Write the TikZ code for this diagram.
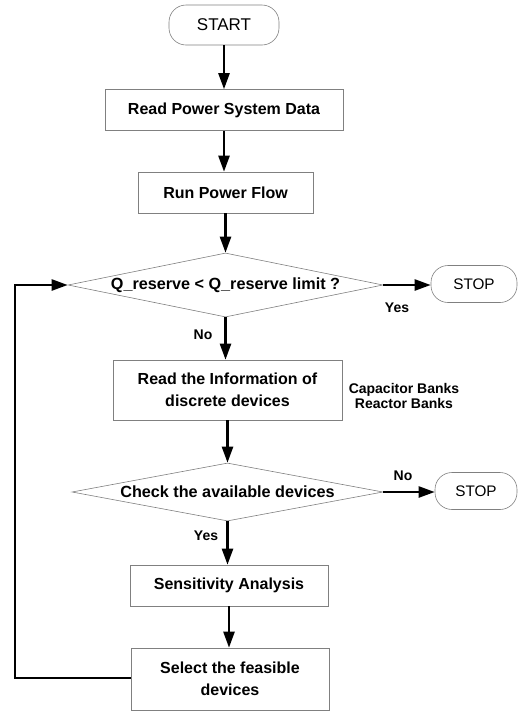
\documentclass[tikz,border=0pt]{standalone}
\usepackage{fontspec}
\setmainfont{Liberation Sans}
\usetikzlibrary{arrows.meta,shapes.geometric}
\tikzset{
  outline/.style={draw=black!50, line width=0.6pt},
  procbox/.style={outline, rectangle, inner sep=0pt, align=center,
    font=\fontsize{16}{22}\selectfont\bfseries},
  termbox/.style={outline, rectangle, rounded corners=17pt, inner sep=0pt,
    font=\fontsize{15.3}{18}\selectfont},
  decision/.style={outline, diamond, inner sep=0pt},
  decisiontext/.style={font=\fontsize{16.2}{19}\selectfont\bfseries},
  flow/.style={draw=black, line width=2.4pt,
    -{Triangle[length=16pt,width=11pt]}},
  tag/.style={font=\fontsize{14}{16}\selectfont\bfseries},
  note/.style={align=center, font=\fontsize{14}{15}\selectfont\bfseries}
}
\begin{document}
\begin{tikzpicture}[x=1pt,y=-1pt]
\useasboundingbox (0,0) rectangle (518,713);

% terminals and process steps
\node[termbox, minimum width=110pt, minimum height=40pt,
  font=\fontsize{17}{20}\selectfont] (start) at (224,25) {START};
\node[procbox, minimum width=238pt, minimum height=41pt] (read) at (224,110) {Read Power System Data};
\node[procbox, minimum width=175pt, minimum height=41pt] (pf) at (225.5,192.5) {Run Power Flow};
\node[decision, minimum width=315pt, minimum height=64pt] (q) at (225.5,285) {};
\node[decisiontext] at (q.center) {Q\_reserve < Q\_reserve limit ?};
\node[termbox, minimum width=86pt, minimum height=37pt] (stopa) at (474,284) {STOP};
\node[procbox, minimum width=229pt, minimum height=60pt] (info) at (227.5,390)
  {Read the Information of\\discrete devices};
\node[note] (banks) at (404,396) {Capacitor Banks\\Reactor Banks};
\node[decision, minimum width=311pt, minimum height=58pt] (chk) at (227.5,492) {};
\node[decisiontext] at (chk.center) {Check the available devices};
\node[termbox, minimum width=82pt, minimum height=37pt] (stopb) at (476,491) {STOP};
\node[procbox, minimum width=198pt, minimum height=41pt] (sens) at (229,585.5) {Sensitivity Analysis};
\node[procbox, minimum width=198pt, minimum height=62pt] (sel) at (230,679)
  {Select the feasible\\devices};

% branch labels
\node[tag] (yesa) at (397,308) {Yes};
\node[tag] (noa) at (203,335) {No};
\node[tag] (nob) at (403,476) {No};
\node[tag] (yesb) at (206,536) {Yes};

% connectors
\draw[flow] (start.south) -- (read.north);
\draw[flow] (read.south) -- (read.south |- pf.north);
\draw[flow] (pf.south) -- (pf.south |- q.north);
\draw[flow] (q.east) -- (stopa.west |- q.east);
\draw[flow] (q.south) -- (q.south |- info.north);
\draw[flow] (info.south) -- (info.south |- chk.north);
\draw[flow] (chk.east) -- (stopb.west |- chk.east);
\draw[flow] (chk.south) -- (chk.south |- sens.north);
\draw[flow] (sens.south) -- (sens.south |- sel.north);
\coordinate (loopbl) at (15,678);
\draw[flow] (sel.west |- loopbl) -- (loopbl) |- (q.west);
\end{tikzpicture}
\end{document}
